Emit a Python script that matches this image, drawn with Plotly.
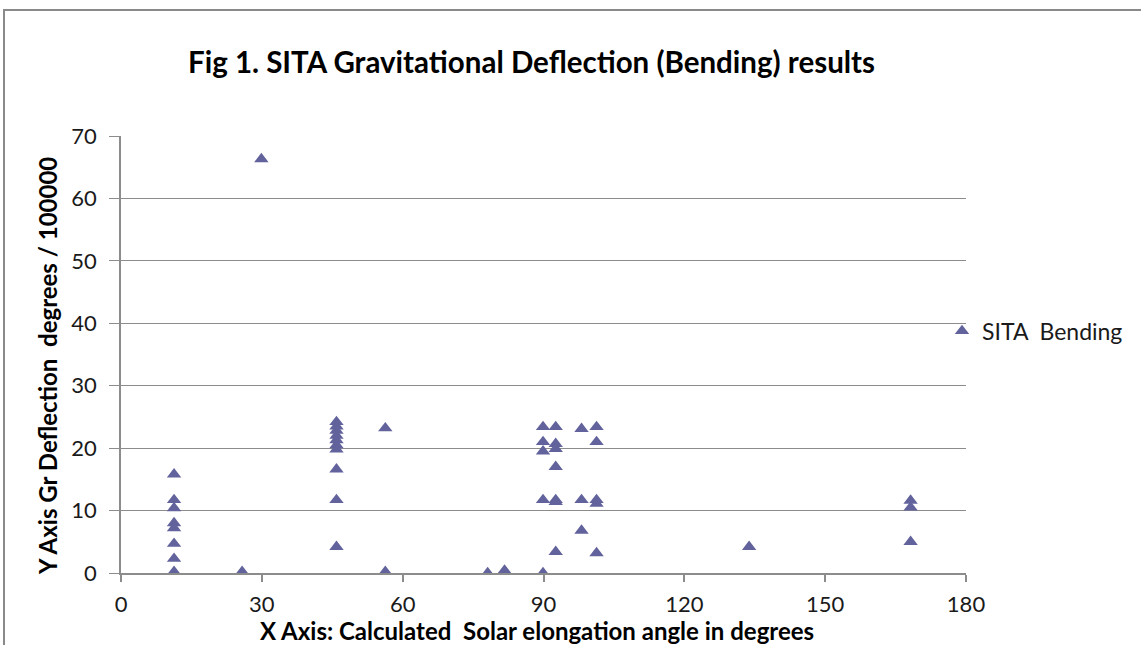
import plotly.graph_objects as go

# Solar elongation angle (degrees)
elong_deg = [
    11.3, 11.3, 11.3, 11.3, 11.3, 11.3, 11.3, 11.3,
    25.8, 29.9,
    45.9, 45.9, 45.9, 45.9, 45.9, 45.9, 45.9, 45.9, 45.9, 45.9,
    56.3, 56.3,
    78.1, 81.7,
    89.9, 89.9, 89.9, 89.9, 89.9,
    92.6, 92.6, 92.6, 92.6, 92.6, 92.6, 92.6,
    98.1, 98.1, 98.1,
    101.3, 101.3, 101.3, 101.3, 101.3,
    133.8,
    168.2, 168.2, 168.2,
]
# Gravitational deflection (degrees / 100000)
deflection = [
    15.8, 11.7, 10.4, 8.0, 7.2, 4.7, 2.3, 0.2,
    0.2, 66.3,
    24.2, 23.5, 22.8, 22.0, 21.3, 20.5, 19.8, 16.6, 11.7, 4.2,
    23.2, 0.2,
    0.0, 0.4,
    23.4, 21.0, 19.5, 11.7, 0.0,
    23.4, 20.7, 19.9, 17.0, 11.7, 11.4, 3.4,
    23.1, 11.7, 6.8,
    23.4, 21.0, 11.7, 11.1, 3.2,
    4.2,
    11.6, 10.5, 5.0,
]
x_ticks = [0, 30, 60, 90, 120, 150, 180]
y_ticks = [0, 10, 20, 30, 40, 50, 60, 70]

W, H = 1141, 645
L, R, T, B = 121, 966, 136, 573
FONT = "Lato, Carlito, 'Open Sans', sans-serif"
GRID = "#8c8c8c"
MARK = "#62629c"

fig = go.Figure()
fig.add_trace(go.Scatter(
    x=elong_deg, y=deflection, mode="markers",
    name="SITA\u00a0 Bending",
    marker=dict(symbol="triangle-up", size=12.5, color=MARK),
))

fig.update_layout(
    width=W, height=H, autosize=False,
    margin=dict(l=L, r=W - R, t=T, b=H - B, pad=0),
    paper_bgcolor="white", plot_bgcolor="white",
    font=dict(family=FONT, size=20, color="#1a1a1a"),
    showlegend=True,
    legend=dict(x=(942 - L) / (R - L), y=1 - (331 - T) / (B - T),
                xanchor="left", yanchor="middle",
                font=dict(family=FONT, size=23, color="#1a1a1a"),
                bgcolor="rgba(0,0,0,0)", itemwidth=30, borderwidth=0),
    xaxis=dict(range=[0, 180], tickvals=x_ticks, showgrid=False,
               showline=True, linecolor=GRID, linewidth=1.5,
               ticks="outside", ticklen=7, tickcolor=GRID, tickwidth=1.5,
               tickfont=dict(family=FONT, size=22, color="#1a1a1a"),
               ticklabelstandoff=4,
               zeroline=False, fixedrange=True),
    yaxis=dict(range=[0, 70], tickvals=y_ticks, showgrid=True,
               gridcolor=GRID, gridwidth=1.3,
               showline=True, linecolor=GRID, linewidth=1.5,
               ticks="outside", ticklen=10, tickcolor=GRID, tickwidth=1.3,
               tickfont=dict(family=FONT, size=22, color="#1a1a1a"),
               ticklabelstandoff=8,
               zeroline=False, fixedrange=True),
    shapes=[dict(type="rect", xref="paper", yref="paper",
                 x0=(4 - L) / (R - L), x1=(W + 20 - L) / (R - L),
                 y0=-(H + 20 - B) / (B - T), y1=1 + (T - 10) / (B - T),
                 line=dict(color="#8a8a8a", width=2), layer="below")],
    annotations=[
        dict(text="<b>Fig 1. SITA Gravitational Deflection (Bending) results</b>",
             xref="paper", yref="paper",
             x=(531 - L) / (R - L), y=1 + (T - 62) / (B - T),
             xanchor="center", yanchor="middle", showarrow=False,
             font=dict(family=FONT, size=29.5, color="#000000")),
        dict(text="<b>X Axis: Calculated\u00a0 Solar elongation angle in degrees</b>",
             xref="paper", yref="paper",
             x=(537 - L) / (R - L), y=-(630 - B) / (B - T),
             xanchor="center", yanchor="middle", showarrow=False,
             font=dict(family=FONT, size=24, color="#000000")),
        dict(text="<b>Y Axis Gr Deflection\u00a0 degrees / 100000</b>",
             xref="paper", yref="paper",
             x=-(L - 47) / (R - L), y=1 - (366 - T) / (B - T),
             xanchor="center", yanchor="middle", showarrow=False, textangle=-90,
             font=dict(family=FONT, size=24, color="#000000")),
    ],
)

fig.write_html("out.html",
               config={"responsive": False, "displayModeBar": False},
               post_script="document.body.style.margin='0px';document.body.style.overflow='hidden';")
